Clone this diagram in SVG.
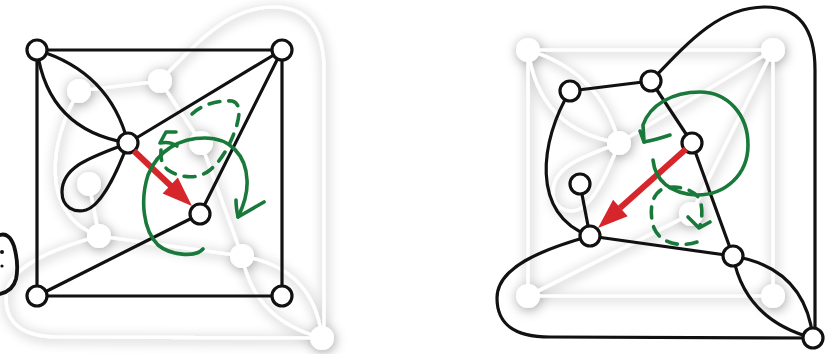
<svg xmlns="http://www.w3.org/2000/svg" width="833" height="354" viewBox="0 0 833 354">
<style>
.wl{fill:none;stroke:#fff;stroke-width:3.2;stroke-linecap:round}
.wn{fill:#fff;stroke:none}
.bl{fill:none;stroke:#111;stroke-width:3.2;stroke-linecap:round}
.bn{fill:#fff;stroke:#111;stroke-width:3.2}
.red{stroke:#d7262b;stroke-width:6;fill:none}
.redh{fill:#d7262b}
.gs{fill:none;stroke:#18793a;stroke-width:3.6;stroke-linecap:round;stroke-linejoin:round}
.gd{fill:none;stroke:#18793a;stroke-width:3.6;stroke-linecap:round;stroke-dasharray:11 9}
</style>
<defs>
<filter id="glow" x="-20%" y="-20%" width="140%" height="140%">
<feGaussianBlur in="SourceAlpha" stdDeviation="6" result="b"/>
<feOffset in="b" dx="1" dy="2" result="o"/>
<feFlood flood-color="#000" flood-opacity="0.38"/>
<feComposite in2="o" operator="in" result="s"/>
<feMerge><feMergeNode in="s"/><feMergeNode in="SourceGraphic"/></feMerge>
</filter>
</defs>
<rect width="833" height="354" fill="#fff"/>

<!-- LEFT PANEL: white dual graph -->
<g id="left-dual" filter="url(#glow)" transform="translate(-491,0)">
<g id="left-dual-edges">
<path class="wl" d="M570,91 L651,81"/>
<path class="wl" d="M651,81 L692,143"/>
<path class="wl" d="M692,143 L733,256"/>
<path class="wl" d="M590,236 L733,256"/>
<path class="wl" d="M580,184 L590,236"/>
<path class="wl" d="M570,91 C540,140 530,215 590,236"/>
<path class="wl" d="M651,81 C690,40 720,7 765,7 C800,7 815,30 815,70 L815,338"/>
<path class="wl" d="M590,236 C540,250 497,268 497,298 C497,325 515,337 550,337 L813,338"/>
<path class="wl" d="M733,256 Q805,268 813,338"/>
<path class="wl" d="M733,256 Q745,320 813,338"/>
</g>
<g id="ld-a"><circle class="wn" cx="570" cy="91" r="12"/></g>
<g id="ld-b"><circle class="wn" cx="651" cy="81" r="12"/></g>
<g id="ld-c"><circle class="wn" cx="692" cy="143" r="12"/></g>
<g id="ld-d"><circle class="wn" cx="580" cy="184" r="12"/></g>
<g id="ld-e"><circle class="wn" cx="590" cy="236" r="12"/></g>
<g id="ld-f"><circle class="wn" cx="733" cy="256" r="12"/></g>
<g id="ld-g"><circle class="wn" cx="813" cy="338" r="12"/></g>
</g>

<!-- RIGHT PANEL: white primal graph -->
<g id="right-primal" filter="url(#glow)" transform="translate(491,0)">
<g id="right-primal-edges">
<path class="wl" d="M37,50 L282,50 L282,296 L37,296 Z"/>
<path class="wl" d="M282,50 L128,143"/>
<path class="wl" d="M282,50 L200,214"/>
<path class="wl" d="M37,296 L200,214"/>
<path class="wl" d="M37,50 Q110,72 128,143"/>
<path class="wl" d="M37,50 Q48,130 128,143"/>
<path class="wl" d="M128,143 C95,156 62,165 62,192 C62,208 75,213 86,210 C102,205 118,170 128,143"/>
</g>
<g id="rp-tl"><circle class="wn" cx="37" cy="50" r="12"/></g>
<g id="rp-tr"><circle class="wn" cx="282" cy="50" r="12"/></g>
<g id="rp-ce"><circle class="wn" cx="128" cy="143" r="12"/></g>
<g id="rp-x"><circle class="wn" cx="200" cy="214" r="12"/></g>
<g id="rp-bl"><circle class="wn" cx="37" cy="296" r="12"/></g>
<g id="rp-br"><circle class="wn" cx="282" cy="296" r="12"/></g>
</g>

<!-- LEFT PANEL: black primal graph -->
<g id="left-primal">
<g id="left-primal-edges">
<path class="bl" d="M37,50 L282,50 L282,296 L37,296 Z"/>
<path class="bl" d="M282,50 L128,143"/>
<path class="bl" d="M282,50 L200,214"/>
<path class="bl" d="M37,296 L200,214"/>
<path class="bl" d="M37,50 Q110,72 128,143"/>
<path class="bl" d="M37,50 Q48,130 128,143"/>
<path class="bl" d="M128,143 C95,156 62,165 62,192 C62,208 75,213 86,210 C102,205 118,170 128,143"/>
</g>
<g id="lp-tl"><circle class="bn" cx="37" cy="50" r="10"/></g>
<g id="lp-tr"><circle class="bn" cx="282" cy="50" r="10"/></g>
<g id="lp-ce"><circle class="bn" cx="128" cy="143" r="10"/></g>
<g id="lp-x"><circle class="bn" cx="200" cy="214" r="10"/></g>
<g id="lp-bl"><circle class="bn" cx="37" cy="296" r="10"/></g>
<g id="lp-br"><circle class="bn" cx="282" cy="296" r="10"/></g>
</g>

<!-- partial figure at left edge -->
<g id="edge-figure">
<path d="M0,235 C6,233 11,237 14,246 C17,257 18,270 16,279 C14,287 8,292 0,294" fill="none" stroke="#111" stroke-width="3.8" stroke-linecap="round"/>
<circle cx="2" cy="252" r="2" fill="#111"/>
<circle cx="2" cy="266" r="1.6" fill="#111"/>
</g>

<!-- RIGHT PANEL: black dual graph -->
<g id="right-dual">
<g id="right-dual-edges">
<path class="bl" d="M570,91 L651,81"/>
<path class="bl" d="M651,81 L692,143"/>
<path class="bl" d="M692,143 L733,256"/>
<path class="bl" d="M590,236 L733,256"/>
<path class="bl" d="M580,184 L590,236"/>
<path class="bl" d="M570,91 C540,140 530,215 590,236"/>
<path class="bl" d="M651,81 C690,40 720,7 765,7 C800,7 815,30 815,70 L815,338"/>
<path class="bl" d="M590,236 C540,250 497,268 497,298 C497,325 515,337 550,337 L813,338"/>
<path class="bl" d="M733,256 Q805,268 813,338"/>
<path class="bl" d="M733,256 Q745,320 813,338"/>
</g>
<g id="rd-a"><circle class="bn" cx="570" cy="91" r="10"/></g>
<g id="rd-b"><circle class="bn" cx="651" cy="81" r="10"/></g>
<g id="rd-c"><circle class="bn" cx="692" cy="143" r="10"/></g>
<g id="rd-d"><circle class="bn" cx="580" cy="184" r="10"/></g>
<g id="rd-e"><circle class="bn" cx="590" cy="236" r="10"/></g>
<g id="rd-f"><circle class="bn" cx="733" cy="256" r="10"/></g>
<g id="rd-g"><circle class="bn" cx="813" cy="338" r="10"/></g>
</g>

<!-- red arrows -->
<g id="red-arrows">
<path class="red" d="M134,151 L172,187"/>
<polygon class="redh" points="192,206 162.6,193.4 177.8,177.4"/>
<path class="red" d="M686,149 L620,208"/>
<polygon class="redh" points="598,228 627.7,216.2 613.1,199.8"/>
</g>

<!-- green annotations -->
<g id="green-left">
<path class="gs" d="M203,249 C195,258 170,255 158,245 C143,230 140,200 148,175 C158,150 180,138 205,138 C230,138 246,155 247,180 C248,195 243,207 238,217"/>
<path class="gs" d="M236,200 C236,207 237,212 238,217 L264,202"/>
<path class="gd" d="M192,114 C200,106 215,100 232,101 C241,103 240,115 236,128 C230,145 222,160 210,170 C198,180 180,178 168,170 C162,165 160,158 161,150"/>
<path class="gs" d="M176,132 L166,132 L160,143 Q170,141 177,146"/>
</g>
<g id="green-right">
<path class="gs" d="M653,160 C655,180 670,194 697,195 C725,195 748,175 748,145 C748,115 728,92 700,92 C672,92 650,105 643,125 L644,142"/>
<path class="gs" d="M640,131 L644,142 Q655,140 670,135"/>
<path class="gd" d="M697,242 C680,248 660,243 654,228 C648,210 652,192 665,188 C680,185 695,190 700,200 C703,210 702,218 700,226"/>
<path class="gs" d="M688,217 L699,228 L710,222"/>
</g>
</svg>
